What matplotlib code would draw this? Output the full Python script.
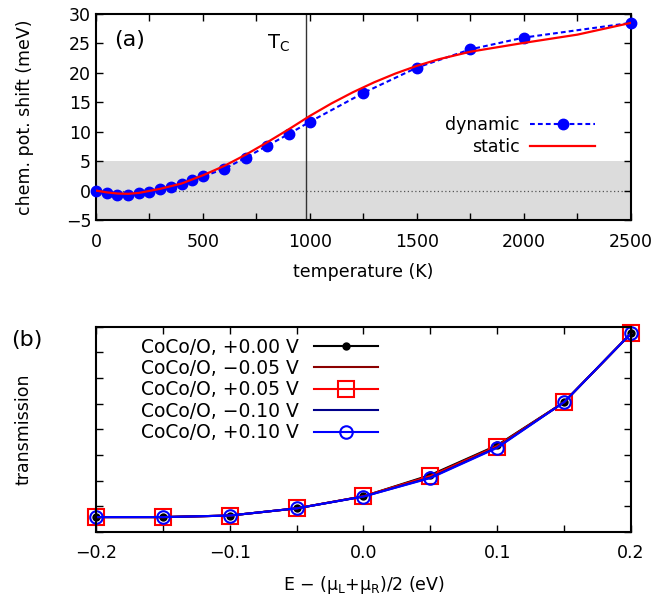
import numpy as np
import matplotlib as mpl
mpl.rcParams['xtick.direction'] = 'in'
mpl.rcParams['ytick.direction'] = 'in'
mpl.rcParams['font.family'] = ['DejaVu Sans']
mpl.rcParams['mathtext.fontset'] = 'dejavusans'
mpl.rcParams['mathtext.default'] = 'regular'
mpl.rcParams['axes.unicode_minus'] = True
from matplotlib import pyplot as plt

# ---- panel (a): chemical potential shift vs temperature
temp_dyn = [0, 50, 100, 150, 200, 250, 300, 350, 400, 450, 500, 600, 700, 800, 900, 1000,
            1250, 1500, 1750, 2000, 2500]
shift_dyn = [0.0, -0.35, -0.7, -0.7, -0.45, -0.2, 0.2, 0.6, 1.1, 1.8, 2.4, 3.7, 5.6, 7.6, 9.6, 11.7,
             16.6, 20.9, 24.0, 26.0, 28.5]
temp_stat = [0, 50, 100, 150, 200, 300, 400, 500, 600, 700, 800, 900, 1000, 1100, 1200, 1300,
             1400, 1500, 1600, 1750, 2000, 2250, 2500]
shift_stat = [0.0, -0.3, -0.5, -0.55, -0.4, 0.3, 1.2, 2.6, 4.2, 6.1, 8.2, 10.4, 12.7, 14.8, 16.7, 18.4,
              19.9, 21.2, 22.3, 23.6, 25.1, 26.5, 28.5]
t_curie = 980

# ---- panel (b): transmission vs energy
energy = [-0.2, -0.15, -0.1, -0.05, 0.0, 0.05, 0.1, 0.15, 0.2]
trans = {
    '+0.00': [0.58, 0.58, 0.64, 0.92, 1.39, 2.22, 3.38, 5.06, 7.74],
    '-0.05': [0.58, 0.58, 0.64, 0.92, 1.39, 2.19, 3.36, 5.06, 7.74],
    '+0.05': [0.58, 0.58, 0.64, 0.92, 1.39, 2.17, 3.33, 5.06, 7.74],
    '-0.10': [0.58, 0.58, 0.64, 0.92, 1.38, 2.12, 3.30, 5.06, 7.74],
    '+0.10': [0.58, 0.58, 0.64, 0.92, 1.38, 2.10, 3.28, 5.06, 7.74],
}
bias_labels = ['CoCo/O, +0.00 V', 'CoCo/O, \u22120.05 V', 'CoCo/O, +0.05 V',
               'CoCo/O, \u22120.10 V', 'CoCo/O, +0.10 V']

FS = 12.5


def style_axes(ax):
    for s in ax.spines.values():
        s.set_linewidth(1.5)
    ax.tick_params(which='both', top=True, right=True, width=1.0, length=5, labelsize=FS)


fig = plt.figure(figsize=(6.68, 5.99), dpi=100)

#===========================
#==   PANEL (a)
#===========================
ax1 = fig.add_axes([0.1437, 0.6327, 0.8009, 0.3439])
ax1.axhspan(-5, 5, color='#dcdcdc', zorder=0, lw=0)
ax1.axhline(0, color='#555555', lw=0.9, ls=(0, (1, 2)), zorder=1)
ax1.axvline(t_curie, color='#333333', lw=1.0, zorder=1)
ax1.plot(temp_dyn, shift_dyn, color='#0000ff', ls=(0, (2.3, 1.5)), lw=1.5, marker='o', ms=7.5,
         label='dynamic', zorder=3, clip_on=False)
ax1.plot(temp_stat, shift_stat, color='#ff0000', lw=1.6, label='static', zorder=4)
ax1.set_xlim(0, 2500)
ax1.set_ylim(-5, 30)
ax1.set_xticks(np.arange(0, 2501, 250))
ax1.set_xticklabels([str(t) if t % 500 == 0 else '' for t in range(0, 2501, 250)])
ax1.set_yticks(np.arange(-5, 31, 5))
style_axes(ax1)
ax1.tick_params(axis='x', pad=9)
ax1.set_xlabel('temperature (K)', fontsize=FS, labelpad=9)
ax1.set_ylabel('chem. pot. shift (meV)', fontsize=FS, labelpad=23)
ax1.text(85, 25.6, '(a)', fontsize=16, va='center', ha='left')
ax1.text(800, 25.0, 'T$_\\mathrm{C}$', fontsize=14, va='center', ha='left')
ax1.legend(loc='center right', bbox_to_anchor=(0.933, 0.408), frameon=False, fontsize=FS,
           markerfirst=False, handlelength=3.75, handletextpad=0.6, labelspacing=0.2,
           borderpad=0, borderaxespad=0)

#===========================
#==   PANEL (b)
#===========================
ax2 = fig.add_axes([0.1437, 0.1119, 0.8009, 0.3427])
colors = ['#000000', '#8b0000', '#ff0000', '#00008b', '#0000ff']
markers = ['o', None, 's', None, 'o']
msizes = [4.5, 0, 12, 0, 9]
faces = ['#000000', 'none', 'none', 'none', 'none']
for key, lab, c, m, msz, fc in zip(trans.keys(), bias_labels, colors, markers, msizes, faces):
    ax2.plot(energy, trans[key], color=c, lw=1.5, marker=m, ms=msz, mfc=fc, mec=c, mew=1.5,
             label=lab, clip_on=False)
ax2.set_xlim(-0.2, 0.2)
ax2.set_ylim(0, 8)
ax2.set_xticks(np.arange(-0.2, 0.201, 0.05))
ax2.set_xticklabels(['\u22120.2', '', '\u22120.1', '', '0.0', '', '0.1', '', '0.2'])
ax2.set_yticks(np.arange(0, 8.1, 1))
ax2.set_yticklabels([])
style_axes(ax2)
ax2.tick_params(axis='x', pad=9)
ax2.set_xlabel('E \u2212 ($\\mu_\\mathrm{L}$+$\\mu_\\mathrm{R}$)/2 (eV)', fontsize=FS, labelpad=8)
ax2.set_ylabel('transmission', fontsize=FS, labelpad=42)
fig.text(0.04, 0.432, '(b)', fontsize=16, va='center', ha='center')
ax2.legend(loc='upper left', bbox_to_anchor=(0.0848, 0.947), frameon=False, fontsize=13.5,
           markerfirst=False, handlelength=3.4, handletextpad=0.8, labelspacing=0.13,
           borderpad=0, borderaxespad=0)

plt.savefig('out.png', dpi=100)
